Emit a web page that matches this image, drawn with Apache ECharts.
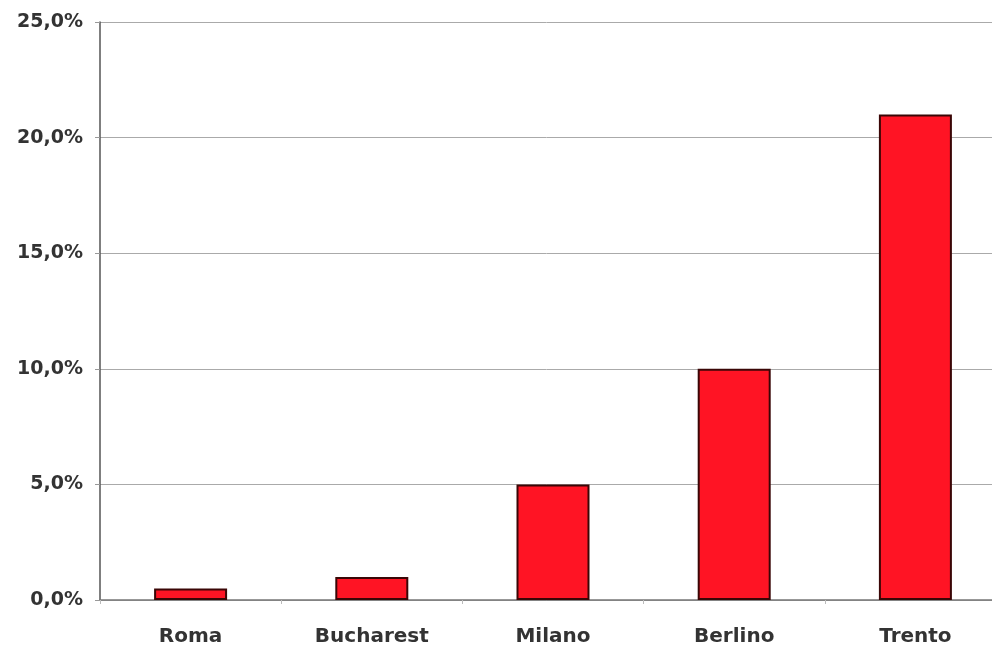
<!DOCTYPE html>
<html>
<head>
    <meta charset="utf-8">
    <title>Bar chart</title>
    <script src="https://cdn.jsdelivr.net/npm/echarts@6.0.0/dist/echarts.min.js"></script>
    <style>
        html, body { margin: 0; padding: 0; background: #fff; }
        #main { width: 992px; height: 651px; }
    </style>
</head>
<body>
    <div id="main"></div>
    <script>
        // dati
        const cities = ['Roma', 'Bucharest', 'Milano', 'Berlino', 'Trento'];
        const shares = [0.5, 1.0, 5.0, 10.0, 21.0];

        const chart = echarts.init(document.getElementById('main'));

        const option = {
            animation: false,
            grid: {
                left: 100,
                top: 22,
                width: 906,
                height: 578,
                containLabel: false,
                outerBoundsMode: 'none'
            },
            xAxis: {
                type: 'category',
                data: cities,
                axisLine: { lineStyle: { color: '#777', width: 1.5 } },
                axisTick: { show: true, length: 4, lineStyle: { color: '#bbb' } },
                axisLabel: {
                    color: '#333',
                    fontFamily: 'DejaVu Sans',
                    fontWeight: 'bold',
                    fontSize: 20,
                    margin: 27
                }
            },
            yAxis: {
                type: 'value',
                min: 0,
                max: 25,
                interval: 5,
                axisLine: { show: true, lineStyle: { color: '#555', width: 1.5 } },
                axisTick: { show: true, length: 5, lineStyle: { color: '#999' } },
                axisLabel: {
                    color: '#333',
                    fontFamily: 'DejaVu Sans',
                    fontWeight: 'bold',
                    fontSize: 19,
                    margin: 17,
                    formatter: v => v.toFixed(1).replace('.', ',') + '%'
                },
                splitLine: { show: true, lineStyle: { color: '#aaa', width: 1 } }
            },
            series: [{
                type: 'bar',
                data: shares,
                barWidth: 73,
                itemStyle: {
                    color: '#ff1424',
                    borderColor: '#3a0606',
                    borderWidth: 2
                }
            }]
        };

        chart.setOption(option);
    </script>
</body>
</html>
